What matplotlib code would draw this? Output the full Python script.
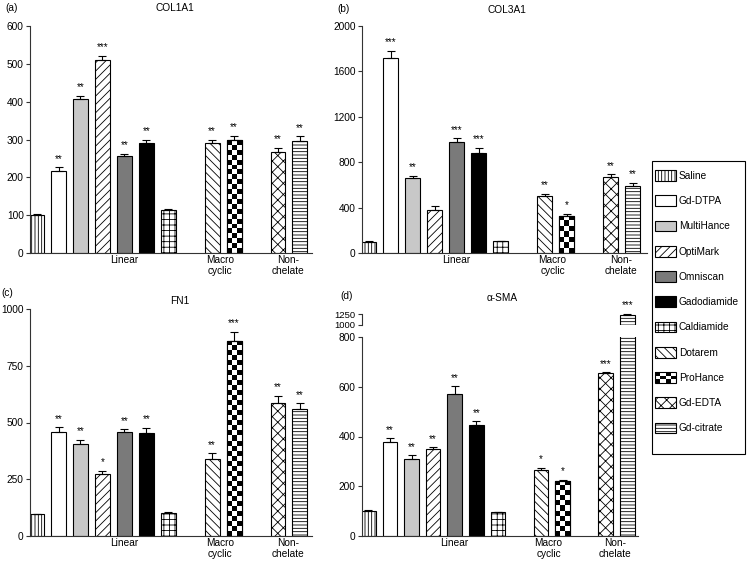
import numpy as np
import matplotlib
matplotlib.use('Agg')
import matplotlib.pyplot as plt
from matplotlib.patches import Rectangle, Patch
from matplotlib.legend_handler import HandlerBase

plt.rcParams['font.family'] = ['Liberation Sans', 'DejaVu Sans']
plt.rcParams['hatch.linewidth'] = 0.6

# ---------------- data ----------------
agents = ['Saline', 'Gd-DTPA', 'MultiHance', 'OptiMark', 'Omniscan', 'Gadodiamide',
          'Caldiamide', 'Dotarem', 'ProHance', 'Gd-EDTA', 'Gd-citrate']
positions = [0, 1, 2, 3, 4, 5, 6, 8, 9, 11, 12]
group_labels = ['Linear', 'Macro\ncyclic', 'Non-\nchelate']
group_centers = [4.0, 8.35, 11.45]

col1a1_vals = [100, 218, 406, 509, 256, 290, 113, 291, 298, 268, 296]
col1a1_err = [4, 8, 10, 12, 6, 10, 4, 8, 12, 10, 12]
col1a1_sig = ['', '**', '**', '***', '**', '**', '', '**', '**', '**', '**']
col1a1_ticks = [0, 100, 200, 300, 400, 500, 600]

col3a1_vals = [100, 1720, 665, 380, 975, 885, 105, 505, 330, 670, 590]
col3a1_err = [5, 60, 15, 30, 35, 40, 5, 15, 15, 25, 30]
col3a1_sig = ['', '***', '**', '', '***', '***', '', '**', '*', '**', '**']
col3a1_ticks = [0, 400, 800, 1200, 1600, 2000]

fn1_vals = [95, 460, 405, 275, 460, 455, 102, 340, 860, 585, 560]
fn1_err = [4, 18, 18, 12, 10, 22, 3, 25, 40, 32, 25]
fn1_sig = ['', '**', '**', '*', '**', '**', '', '**', '***', '**', '**']
fn1_ticks = [0, 250, 500, 750, 1000]

sma_vals = [100, 378, 310, 350, 572, 445, 95, 265, 222, 655, 1230]
sma_err = [3, 15, 15, 6, 30, 16, 3, 10, 3, 3, 20]
sma_sig = ['', '**', '**', '**', '**', '**', '', '*', '*', '***', '***']
sma_ticks_low = [0, 200, 400, 600, 800]
sma_ticks_high = [1000, 1250]

# ---------------- styles ----------------
styles = {
    'Saline': ('white', '|||||'),
    'Gd-DTPA': ('white', None),
    'MultiHance': ('#c8c8c8', None),
    'OptiMark': ('white', '////'),
    'Omniscan': ('#7a7a7a', None),
    'Gadodiamide': ('black', None),
    'Caldiamide': ('white', '+++'),
    'Dotarem': ('white', '\\\\\\\\'),
    'ProHance': ('checker', None),
    'Gd-EDTA': ('white', 'xxx'),
    'Gd-citrate': ('white', '-----'),
}

W, H = 748, 563
FS = 7.3
BW = 0.68
SPINE = '#333333'


def box(l, t, r, b):
    return [l / W, 1 - b / H, (r - l) / W, (b - t) / H]


fig = plt.figure(figsize=(W / 100, H / 100), dpi=100)


def style_axes(ax, yticks, show_bottom=True, labelsize=FS):
    for s in ['top', 'right']:
        ax.spines[s].set_visible(False)
    ax.spines['left'].set_color(SPINE)
    ax.spines['left'].set_linewidth(0.8)
    ax.spines['bottom'].set_color(SPINE)
    ax.spines['bottom'].set_linewidth(0.8)
    if not show_bottom:
        ax.spines['bottom'].set_visible(False)
    ax.set_xticks([])
    ax.set_yticks(yticks)
    ax.set_yticklabels([str(t) for t in yticks])
    ax.tick_params(axis='y', direction='out', length=3, width=0.8, color=SPINE,
                   labelsize=labelsize, pad=1.5)


def draw_panel(ax, vals, errs, sig, ylim, yticks, xmax, show_bottom=True,
               groups=True, labelsize=FS):
    ax.set_xlim(-0.3, xmax)
    ax.set_ylim(*ylim)
    style_axes(ax, yticks, show_bottom, labelsize)
    checker_bars = []
    for name, x, v in zip(agents, positions, vals):
        fc, hatch = styles[name]
        if fc == 'checker':
            b = ax.bar(x, v, width=BW, color='white', edgecolor='black',
                       linewidth=0.8, zorder=2)[0]
            checker_bars.append((x, v, b))
        else:
            ax.bar(x, v, width=BW, color=fc, edgecolor='black', hatch=hatch,
                   linewidth=0.8, zorder=2)
    # checkerboard fill
    for x, v, b in checker_bars:
        if v <= ylim[0]:
            continue
        top = min(v, ylim[1])
        p0 = ax.transData.transform((x, max(0, ylim[0])))
        p1 = ax.transData.transform((x, top))
        nrows = max(1, int(round((p1[1] - p0[1]) / 5.0)))
        arr = np.add.outer(np.arange(nrows), np.arange(3)) % 2
        im = ax.imshow(arr, cmap='gray', vmin=0, vmax=1, origin='lower',
                       extent=(x - BW / 2, x + BW / 2, max(0, ylim[0]), top),
                       aspect='auto', interpolation='nearest', zorder=2.5)
        im.set_clip_path(b)
        ax.bar(x, v, width=BW, fill=False, edgecolor='black', linewidth=0.8,
               zorder=3)
    ax.set_xlim(-0.3, xmax)
    ax.set_ylim(*ylim)
    # error bars (upper only), only for bars whose top lies in this axis range
    idx = [i for i, (v, e) in enumerate(zip(vals, errs))
           if v >= ylim[0] and v + e <= ylim[1] * 1.05]
    if idx:
        ax.errorbar([positions[i] for i in idx], [vals[i] for i in idx],
                    yerr=[[0] * len(idx), [errs[i] for i in idx]], fmt='none',
                    ecolor='black', elinewidth=0.8, capsize=3, capthick=0.8,
                    zorder=4, clip_on=False)
    for x, v, e, s in zip(positions, vals, errs, sig):
        if s and v >= ylim[0] and v + e <= ylim[1] * 1.05:
            ax.annotate(s, xy=(x, v + e), xytext=(0, 2.5), textcoords='offset points',
                        ha='center', va='bottom', fontsize=7, annotation_clip=False)
    if groups:
        trans = ax.get_xaxis_transform()
        for lab, gx in zip(group_labels, group_centers):
            ax.text(gx, -0.008, lab, transform=trans, ha='center', va='top',
                    fontsize=FS, linespacing=1.15, multialignment='center')


ax_a = fig.add_axes(box(30, 26, 312, 253))
draw_panel(ax_a, col1a1_vals, col1a1_err, col1a1_sig, (0, 600), col1a1_ticks, 12.55)

ax_b = fig.add_axes(box(362, 26, 647, 253))
draw_panel(ax_b, col3a1_vals, col3a1_err, col3a1_sig, (0, 2000), col3a1_ticks, 12.64)

ax_c = fig.add_axes(box(30, 309, 312, 536))
draw_panel(ax_c, fn1_vals, fn1_err, fn1_sig, (0, 1000), fn1_ticks, 12.55)

ax_d = fig.add_axes(box(362, 337, 638, 536))
draw_panel(ax_d, sma_vals, sma_err, sma_sig, (0, 800), sma_ticks_low, 12.5)

ax_d2 = fig.add_axes(box(362, 314, 638, 325))
draw_panel(ax_d2, sma_vals, sma_err, sma_sig, (1000, 1250), sma_ticks_high, 12.5,
           show_bottom=False, groups=False, labelsize=6.8)
ax_d2.patch.set_alpha(0)

# titles and panel letters
def ftext(x, y, s, **kw):
    fig.text(x / W, 1 - y / H, s, ha='center', va='center', fontsize=FS, **kw)

ftext(12, 8, '(a)')
ftext(175, 8, 'COL1A1')
ftext(343, 9, '(b)')
ftext(507, 10, 'COL3A1')
ftext(7, 293, '(c)')
ftext(180, 301, 'FN1')
ftext(347, 296, '(d)')
ftext(502, 298, 'α-SMA')

# ---------------- legend ----------------
class CheckerHandler(HandlerBase):
    def create_artists(self, legend, orig_handle, xdescent, ydescent, width,
                       height, fontsize, trans):
        arts = []
        nx, ny = 4, 3
        for i in range(nx):
            for j in range(ny):
                if (i + j) % 2 == 0:
                    arts.append(Rectangle((-xdescent + i * width / nx,
                                           -ydescent + j * height / ny),
                                          width / nx, height / ny,
                                          facecolor='black', edgecolor='none',
                                          transform=trans))
        arts.append(Rectangle((-xdescent, -ydescent), width, height,
                              facecolor='none', edgecolor='black', lw=0.8,
                              transform=trans))
        return arts


handles = []
handler_map = {}
for name in agents:
    fc, hatch = styles[name]
    if fc == 'checker':
        h = Patch(facecolor='white', edgecolor='black', lw=0.8)
        handler_map[h] = CheckerHandler()
    else:
        h = Patch(facecolor=fc, edgecolor='black', hatch=hatch, lw=0.8)
    handles.append(h)

# legend frame drawn as a figure rectangle
frame = Rectangle((652 / W, 1 - 454 / H), (745 - 652) / W, (454 - 161) / H,
                  transform=fig.transFigure, facecolor='white', edgecolor='black',
                  linewidth=0.8, zorder=0)
fig.patches.append(frame)

leg = fig.legend(handles, agents, loc='upper left',
                 bbox_to_anchor=(653 / W, 1 - 168 / H), frameon=False,
                 fontsize=FS, handlelength=2.1, handleheight=1.25,
                 handletextpad=0.25, labelspacing=1.43, borderpad=0.2,
                 borderaxespad=0, handler_map=handler_map)

fig.savefig('out.png', dpi=100)
